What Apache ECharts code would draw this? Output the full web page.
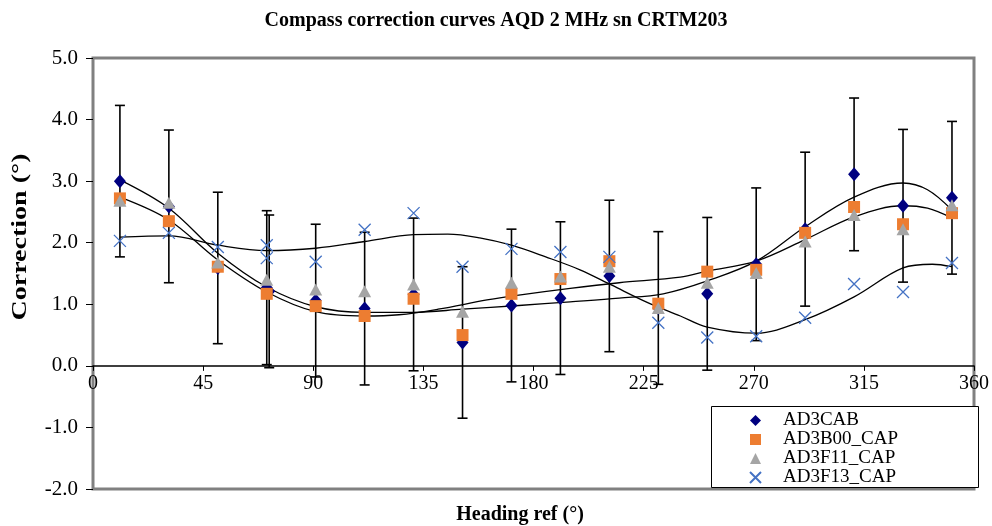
<!DOCTYPE html>
<html>
<head>
<meta charset="utf-8">
<script src="https://cdn.jsdelivr.net/npm/echarts@6/dist/echarts.min.js"></script>
<style>
html,body{margin:0;padding:0;background:#fff;}
#chart{width:992px;height:526px;}
</style>
</head>
<body>
<div id="chart"></div>
<script>
// ---- data ----
const headings = [11, 31, 51, 71, 91, 111, 131, 151, 171, 191, 211, 231, 251, 271, 291, 311, 331, 351];
const ad3cab   = [3.00, 2.59, 1.59, 1.27, 1.06, 0.93, 1.16, 0.38, 0.98, 1.10, 1.46, 0.94, 1.17, 1.65, 2.22, 3.11, 2.60, 2.73];
const ad3cabErr = [1.23, 1.24, 1.23, 1.25, 1.24, 1.24, 1.24, 1.23, 1.24, 1.24, 1.23, 1.24, 1.24, 1.24, 1.25, 1.24, 1.24, 1.24];
const ad3cabExtra = [72, 1.21, 1.24];           // heading, value, error
const ad3b00   = [2.72, 2.35, 1.61, 1.17, 0.97, 0.81, 1.09, 0.50, 1.17, 1.41, 1.70, 1.01, 1.53, 1.56, 2.16, 2.58, 2.30, 2.48];
const ad3f11   = [2.68, 2.65, 1.68, 1.40, 1.24, 1.21, 1.32, 0.88, 1.35, 1.45, 1.61, 0.94, 1.35, 1.51, 2.02, 2.45, 2.22, 2.61];
const ad3f13   = [2.03, 2.16, 1.93, 1.96, 1.69, 2.21, 2.48, 1.61, 1.90, 1.85, 1.77, 0.70, 0.46, 0.48, 0.78, 1.33, 1.20, 1.67];
const ad3f13Extra = [71, 1.75];

// trend curves
const trendCabH = [11, 31, 51, 71, 91, 111, 131, 151, 174, 195, 215, 233, 251, 271, 291, 311, 331, 341, 351];
const trendCabV = [3.02, 2.56, 1.83, 1.28, 0.96, 0.87, 0.87, 0.92, 0.98, 1.04, 1.10, 1.17, 1.38, 1.70, 2.26, 2.74, 2.97, 2.86, 2.53];
const trendB00H = [11, 31, 51, 71, 91, 111, 125, 141, 161, 174, 195, 215, 240, 251, 271, 291, 311, 331, 341, 351];
const trendB00V = [2.74, 2.37, 1.72, 1.20, 0.88, 0.81, 0.83, 0.92, 1.07, 1.15, 1.26, 1.35, 1.44, 1.54, 1.70, 2.05, 2.42, 2.60, 2.56, 2.40];
const trendF13H = [11, 31, 51, 71, 91, 111, 131, 145, 158, 171, 185, 199, 212, 226, 240, 251, 271, 291, 311, 331, 343, 351];
const trendF13V = [2.09, 2.11, 1.96, 1.87, 1.91, 2.02, 2.13, 2.14, 2.08, 1.96, 1.77, 1.56, 1.31, 1.04, 0.81, 0.63, 0.53, 0.75, 1.12, 1.59, 1.65, 1.61];

const xTicks = [0, 45, 90, 135, 180, 225, 270, 315, 360];
const yTicks = [-2, -1, 0, 1, 2, 3, 4, 5];

// ---- build ----
const zip = (xs, ys) => xs.map((x, i) => [x, ys[i]]);
const cabPts = zip(headings, ad3cab).concat([[ad3cabExtra[0], ad3cabExtra[1]]]);
const errData = headings.map((h, i) => [h, ad3cab[i] - ad3cabErr[i], ad3cab[i] + ad3cabErr[i]])
  .concat([[ad3cabExtra[0], ad3cabExtra[1] - ad3cabExtra[2], ad3cabExtra[1] + ad3cabExtra[2]]]);
const f13Pts = zip(headings, ad3f13).concat([ad3f13Extra]);

const FONT = '"Liberation Serif", "Times New Roman", serif';
const GRID_TOP = 58, GRID_BOTTOM = 37, H = 526;
const plotH = H - GRID_TOP - GRID_BOTTOM;
const yMin = yTicks[0], yMax = yTicks[yTicks.length - 1];
// move x axis (line, ticks, labels) up to value 0
const xAxisOffset = -plotH * (0 - yMin) / (yMax - yMin);

const chart = echarts.init(document.getElementById('chart'));

const trendLine = (data) => ({
  type: 'line', data: data, smooth: 0.35, showSymbol: false, symbol: 'none',
  lineStyle: { color: '#000', width: 1.3 }, z: 3, silent: true, legendHoverLink: false
});

chart.setOption({
  animation: false,
  backgroundColor: '#fff',
  title: {
    text: 'Compass correction curves AQD 2 MHz sn CRTM203',
    left: 'center', top: 6,
    textStyle: { fontFamily: FONT, fontWeight: 'bold', fontSize: 20, color: '#000' }
  },
  grid: { left: 93, right: 17, top: GRID_TOP, bottom: GRID_BOTTOM, show: true, borderColor: '#808080', borderWidth: 3, backgroundColor: 'transparent' },
  xAxis: {
    type: 'value', min: xTicks[0], max: xTicks[xTicks.length - 1], interval: 45,
    position: 'bottom', offset: xAxisOffset,
    axisLine: { onZero: false, lineStyle: { color: '#000', width: 1.5 } },
    axisTick: { show: true, length: 5, lineStyle: { color: '#000' } },
    axisLabel: { fontFamily: FONT, fontSize: 20, color: '#000', margin: 8 },
    splitLine: { show: false }
  },
  yAxis: {
    type: 'value', min: yMin, max: yMax, interval: 1,
    axisLine: { show: false },
    axisTick: { show: true, length: 7, lineStyle: { color: '#000' } },
    axisLabel: { fontFamily: FONT, fontSize: 21, color: '#000', margin: 15, formatter: v => v.toFixed(1) },
    splitLine: { show: false }
  },
  legend: {
    orient: 'vertical', left: 744, top: 406, itemGap: 0, itemWidth: 11, itemHeight: 11, z: 60,
    data: ['AD3CAB', 'AD3B00_CAP', 'AD3F11_CAP', 'AD3F13_CAP'],
    textStyle: { fontFamily: FONT, fontSize: 19, lineHeight: 19, height: 19, color: '#000', padding: [0, 0, 0, 17] },
    selectedMode: false
  },
  graphic: [
    { type: 'rect', left: 711, top: 406, z: 50, shape: { width: 267, height: 81 }, style: { fill: '#fff', stroke: '#000', lineWidth: 1 } },
    { type: 'text', x: 21, y: 237, rotation: Math.PI / 2, scaleX: 1.4, z: 10,
      style: { text: 'Correction (°)', fontFamily: FONT, fontWeight: 'bold', fontSize: 20, fill: '#000', textAlign: 'center', textVerticalAlign: 'middle' } },
    { type: 'text', x: 520, y: 515, z: 10,
      style: { text: 'Heading ref (°)', fontFamily: FONT, fontWeight: 'bold', fontSize: 20, fill: '#000', textAlign: 'center', textVerticalAlign: 'middle' } }
  ],
  series: [
    {
      type: 'custom', name: 'err', data: errData, z: 2, silent: true,
      renderItem: function (params, api) {
        const x = api.value(0);
        const lo = api.coord([x, api.value(1)]);
        const hi = api.coord([x, api.value(2)]);
        const w = 5;
        const st = { stroke: '#000', lineWidth: 1.6 };
        return { type: 'group', children: [
          { type: 'line', shape: { x1: lo[0], y1: lo[1], x2: hi[0], y2: hi[1] }, style: st },
          { type: 'line', shape: { x1: lo[0] - w, y1: lo[1], x2: lo[0] + w, y2: lo[1] }, style: st },
          { type: 'line', shape: { x1: hi[0] - w, y1: hi[1], x2: hi[0] + w, y2: hi[1] }, style: st }
        ] };
      },
      encode: { x: 0, y: [1, 2] }
    },
    trendLine(zip(trendCabH, trendCabV)),
    trendLine(zip(trendB00H, trendB00V)),
    trendLine(zip(trendF13H, trendF13V)),
    { type: 'scatter', name: 'AD3CAB', data: cabPts, symbol: 'diamond', symbolSize: [12, 14], z: 4,
      itemStyle: { color: '#000080', opacity: 1 } },
    { type: 'scatter', name: 'AD3B00_CAP', data: zip(headings, ad3b00), symbol: 'rect', symbolSize: 12, z: 5,
      itemStyle: { color: '#ED7D31', opacity: 1 } },
    { type: 'scatter', name: 'AD3F11_CAP', data: zip(headings, ad3f11), symbol: 'triangle', symbolSize: [13, 12], z: 6,
      itemStyle: { color: '#A5A5A5', opacity: 1 } },
    { type: 'scatter', name: 'AD3F13_CAP', data: f13Pts, symbol: 'path://M0,0L10,10M10,0L0,10', symbolSize: 12, z: 7,
      itemStyle: { color: 'rgba(0,0,0,0)', borderColor: '#4472C4', borderWidth: 1.3, opacity: 1 } }
  ]
});
</script>
</body>
</html>
